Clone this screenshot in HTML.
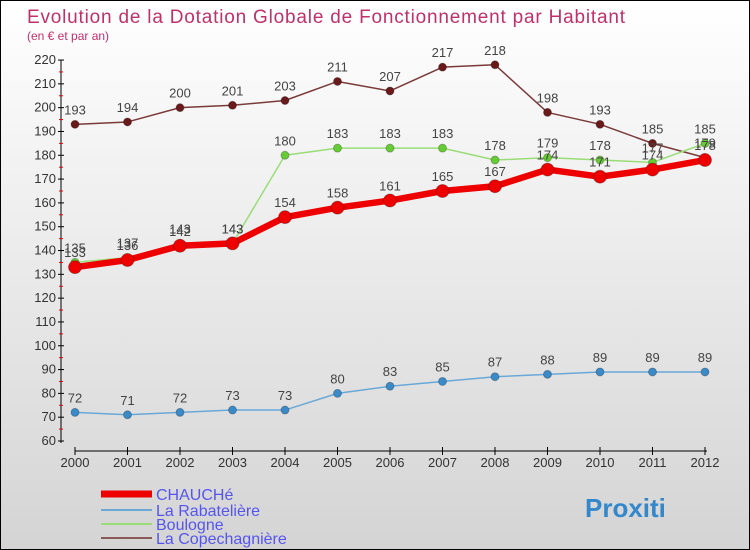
<!DOCTYPE html>
<html><head><meta charset="utf-8"><style>
body{margin:0}
#c{width:748px;height:548px;border:1px solid #000;background:linear-gradient(#fff,#d4d4d4);position:relative;font-family:"Liberation Sans","DejaVu Sans",sans-serif;overflow:hidden}
</style></head><body>
<div id="c">
<svg width="748" height="548" id="s">
<text x="26" y="22" font-size="19" fill="#c0306a" textLength="598">Evolution de la Dotation Globale de Fonctionnement par Habitant</text>
<text x="26" y="39" font-size="12" fill="#c0306a">(en € et par an)</text>
</svg>
</div>
<script>
const years=[2000,2001,2002,2003,2004,2005,2006,2007,2008,2009,2010,2011,2012];
const chauche=[133,136,142,143,154,158,161,165,167,174,171,174,178];
const rabateliere=[72,71,72,73,73,80,83,85,87,88,89,89,89];
const boulogne=[135,137,143,143,180,183,183,183,178,179,178,177,185];
const copechagniere=[193,194,200,201,203,211,207,217,218,198,193,185,179];
const yTicks=[60,70,80,90,100,110,120,130,140,150,160,170,180,190,200,210,220];
const NS="http://www.w3.org/2000/svg",s=document.getElementById('s');
const X=i=>74+i*52.5, Y=v=>440-(v-60)*2.381;
function el(t,a,p){const e=document.createElementNS(NS,t);for(const k in a)e.setAttribute(k,a[k]);(p||s).appendChild(e);return e;}
const ax=el('g',{});
el('line',{x1:60,y1:59,x2:60,y2:442,stroke:'#000'},ax);
el('line',{x1:74,y1:450,x2:706,y2:450,stroke:'#000'},ax);
yTicks.forEach(v=>{el('line',{x1:57,x2:63,y1:Y(v),y2:Y(v),stroke:'#000'},ax);
 if(v<220)el('line',{x1:58,x2:62,y1:Y(v+5),y2:Y(v+5),stroke:'#e00'},ax);
 const t=el('text',{x:55,y:Y(v)+4,'font-size':13,'text-anchor':'end',fill:'#333'},ax);t.textContent=v;
 });
years.forEach((y,i)=>{el('line',{x1:X(i),x2:X(i),y1:446,y2:454,stroke:'#000'},ax);
 const t=el('text',{x:X(i),y:466,'font-size':13,'text-anchor':'middle',fill:'#333'},ax);t.textContent=y;
 });
function series(name,d,col,w,r,pcol){const g=el('g',{});
 el('polyline',{points:d.map((v,i)=>X(i)+','+Y(v)).join(' '),fill:'none',stroke:col,'stroke-width':w,'stroke-linejoin':'round'},g);
 d.forEach((v,i)=>{const c=el('circle',{cx:X(i),cy:Y(v),r:r,fill:pcol,stroke:'rgba(0,0,0,0.25)'},g);
  
  const t=el('text',{x:X(i),y:Y(v)-10,'font-size':13,'text-anchor':'middle',fill:'#444'},g);t.textContent=v;
  });}
series('series-la-copechagniere',copechagniere,'#7a3a3a',1.5,4,'#6a1a1a');
series('series-boulogne',boulogne,'#99dd77',1.5,4,'#66cc33');
series('series-la-rabateliere',rabateliere,'#6aa8d8',1.5,4,'#3a8ac8');
series('series-chauche',chauche,'#ee0000',6.5,6.5,'#ee0000');
const L=[['CHAUCHé','#ee0000',7,493],['La Rabatelière','#6aa8d8',2,509],['Boulogne','#99dd77',2,523],['La Copechagnière','#8a5a5a',2,537]];
L.forEach(l=>{const g=el('g',{});
 el('line',{x1:100,x2:151,y1:l[3],y2:l[3],stroke:l[1],'stroke-width':l[2]},g);
 const t=el('text',{x:155,y:l[3]+6,'font-size':16,fill:'#5555ee'},g);t.textContent=l[0];});
const p=el('text',{x:584,y:516,'font-size':26,'font-weight':'bold',fill:'#3388cc'});p.textContent='Proxiti';

</script>
</body></html>
